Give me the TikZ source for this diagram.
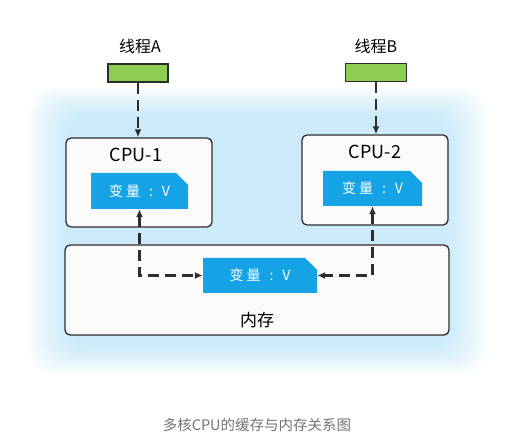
\documentclass[tikz,border=0pt]{standalone}
\usepackage{fontspec}
\setmainfont{Noto Sans CJK SC}
\usetikzlibrary{shapes.misc,arrows.meta}
\definecolor{varblue}{RGB}{22,163,230}
\definecolor{thgreen}{RGB}{141,205,82}
\definecolor{glow}{RGB}{130,205,242}
\definecolor{edge}{RGB}{45,45,45}
\newcommand{\vartext}{变\hspace{3pt}量\hspace{9pt}:\hspace{9pt}V}
\begin{document}
\begin{tikzpicture}[x=1pt,y=-1pt]
        \tikzstyle{thread}=[draw=edge, line width=1.3pt, fill=thgreen, minimum width=60pt, minimum height=18pt, inner sep=0pt]
        \tikzstyle{unit}=[draw=edge, line width=1.3pt, rounded corners=5pt, fill=white!98!black, inner sep=0pt]
        \tikzstyle{var}=[chamfered rectangle, chamfered rectangle corners=north east, chamfered rectangle xsep=0pt, chamfered rectangle ysep=0pt, chamfered rectangle sep=6pt, fill=varblue, text=white, font=\fontsize{14}{16}\selectfont, inner sep=0pt]
        \tikzstyle{link}=[line width=2.2pt, edge, dash pattern=on 11pt off 6pt, -{Latex[length=8pt,width=7pt]}]
        \useasboundingbox (0,0) rectangle (515,441);
        % soft blue glow behind the boxes
        \foreach \i in {0,...,11}
          \fill[glow, opacity=0.045, rounded corners=25pt] (28+3.5*\i,88+2.5*\i) rectangle (487-3.5*\i,374-2.5*\i);
        \node[font=\fontsize{16}{18}\selectfont] (la) at (140,46) {线程A};
        \node[font=\fontsize{16}{18}\selectfont] (lb) at (376,46) {线程B};
        \node[thread] (ga) at (138,73) {};
        \node[thread, minimum width=61pt] (gb) at (376,72.5) {};
        \node[unit, minimum width=146pt, minimum height=89pt] (cpu1) at (139,182.5) {};
        \node[unit, minimum width=146pt, minimum height=90pt] (cpu2) at (375,180) {};
        \node[unit, minimum width=384pt, minimum height=90pt] (mem) at (257,290) {};
        \node[font=\fontsize{18}{20}\selectfont] (c1) at (136,155) {CPU-1};
        \node[font=\fontsize{18}{20}\selectfont] (c2) at (375,152) {CPU-2};
        \node[var, minimum width=97pt, minimum height=36pt] (v1) at (139.5,191) {\vartext};
        \node[var, minimum width=99pt, minimum height=35pt] (v2) at (372.5,188.5) {\vartext};
        \node[var, minimum width=114pt, minimum height=35pt] (mv) at (260,275.5) {\vartext};
        \node[font=\fontsize{17}{19}\selectfont] (mt) at (257,320) {内存};
        \node[font=\fontsize{14.5}{16}\selectfont, text=black!55] (cap) at (257,425) {多核CPU的缓存与内存关系图};
        \draw[link] (ga) -- (ga |- cpu1.north);
        \draw[link] (gb) -- (gb |- cpu2.north);
        \draw[link, {Latex[length=8pt,width=7pt]}-{Latex[length=8pt,width=7pt]}] (v1.south) |- (mv.west);
        \draw[link, {Latex[length=8pt,width=7pt]}-{Latex[length=8pt,width=7pt]}] (v2.south) |- (mv.east);
      \end{tikzpicture}
\end{document}
